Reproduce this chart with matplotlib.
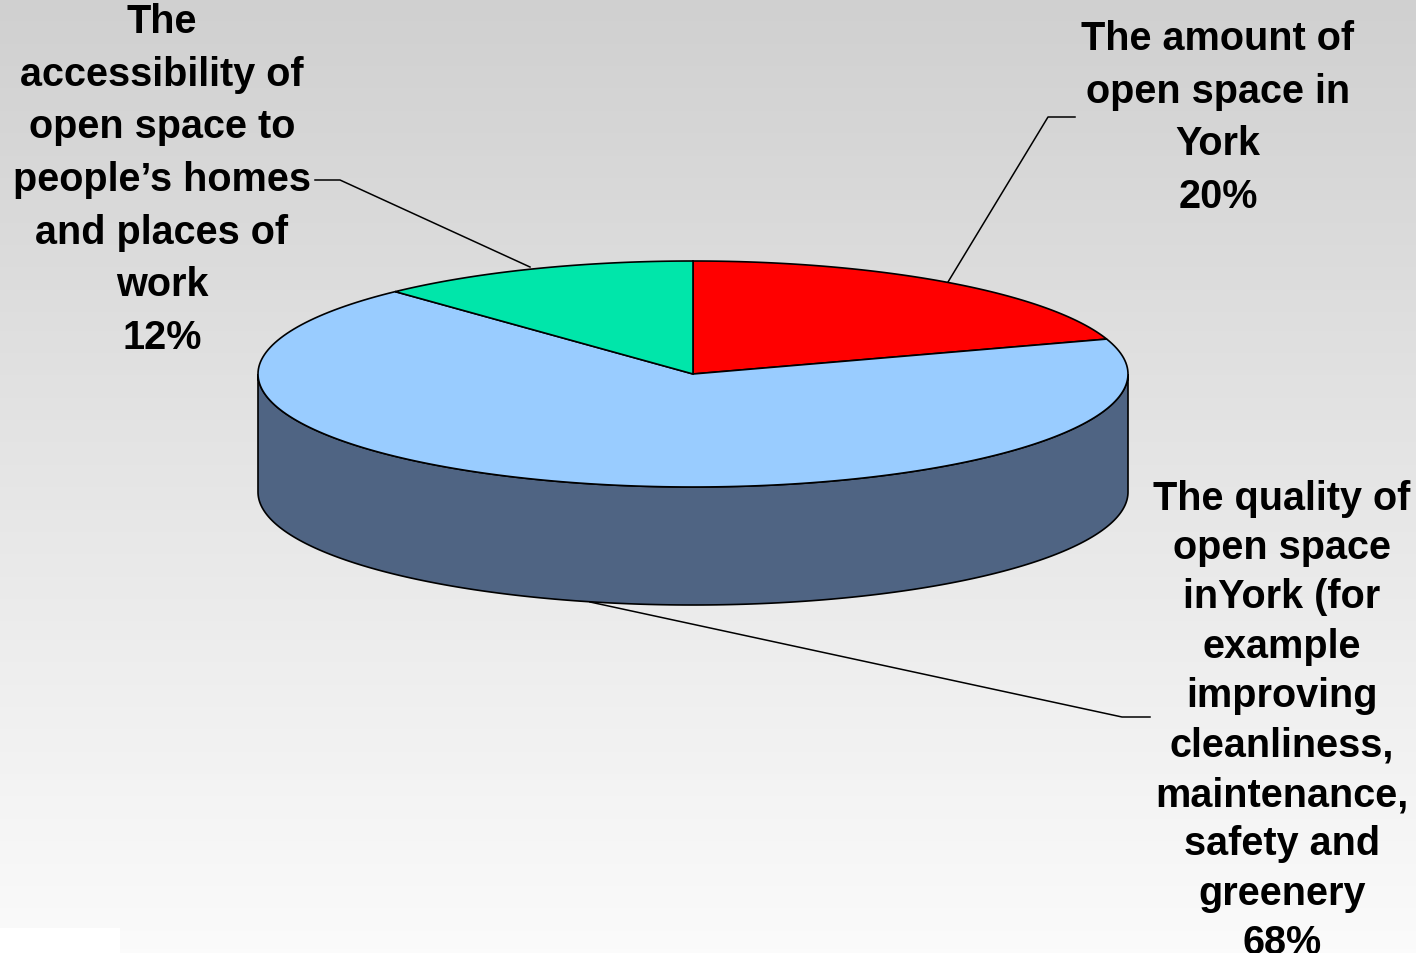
import numpy as np
import matplotlib.pyplot as plt
from matplotlib.colors import LinearSegmentedColormap
from matplotlib.patches import Polygon, Rectangle

# slice data (clockwise from 12 o'clock)
labels = [
    "The amount of\nopen space in\nYork\n20%",
    "The quality of\nopen space\ninYork (for\nexample\nimproving\ncleanliness,\nmaintenance,\nsafety and\ngreenery\n68%",
    "The\naccessibility of\nopen space to\npeople\u2019s homes\nand places of\nwork\n12%",
]
values = [20, 68, 12]
colors = ["#ff0000", "#99ccff", "#00e6aa"]
side_color = "#4f6483"

# geometry in pixel coordinates
W, H = 1416, 954
cx, cy, a, b, depth = 693, 375, 435, 113, 118

fig = plt.figure(figsize=(W / 100, H / 100), dpi=100)
ax = fig.add_axes([0, 0, 1, 1])
ax.set_xlim(0, W)
ax.set_ylim(H, 0)
ax.axis("off")

# background gradient
bg = LinearSegmentedColormap.from_list("bg", ["#d0d0d0", "#fbfbfb"])
ax.imshow(np.linspace(0, 1, 256).reshape(-1, 1), cmap=bg, extent=[0, W, H, 0],
          aspect="auto", origin="upper", zorder=0)
ax.add_patch(Rectangle((0, 929), 120, 25, facecolor="white", edgecolor="none", zorder=0.5))


def ell(t, dy=0):
    t = np.radians(t)
    return np.column_stack([cx + a * np.cos(t), cy - b * np.sin(t) + dy])


# side wall (front half)
t = np.linspace(180, 360, 200)
side = np.vstack([ell(t), ell(t[::-1], depth)])
ax.add_patch(Polygon(side, closed=True, facecolor=side_color, edgecolor="black",
                     lw=1.2, zorder=2))

# top slices
bounds = 90 - 360 * np.concatenate([[0], np.cumsum(values)]) / 100
for i, col in enumerate(colors):
    tt = np.linspace(bounds[i], bounds[i + 1], 200)
    pts = np.vstack([[cx, cy], ell(tt)])
    ax.add_patch(Polygon(pts, closed=True, facecolor=col, edgecolor="black",
                         lw=1.2, zorder=3))

# leader lines
lk = dict(color="black", lw=1.1, zorder=4)
ax.plot([1075, 1048, 948], [118, 118, 283], **lk)
ax.plot([1150, 1122, 590], [718, 718, 603], **lk)
ax.plot([315, 340, 530], [181, 181, 268], **lk)

# labels
tk = dict(fontfamily="Liberation Sans", fontweight="bold", fontsize=28.5,
          ha="center", va="center", multialignment="center", zorder=5)
ax.text(1218, 118, labels[0], linespacing=1.49, **tk)
ax.text(1282, 721, labels[1], linespacing=1.38, **tk)
ax.text(162, 180, labels[2], linespacing=1.49, **tk)

fig.savefig("out.png", dpi=100)
